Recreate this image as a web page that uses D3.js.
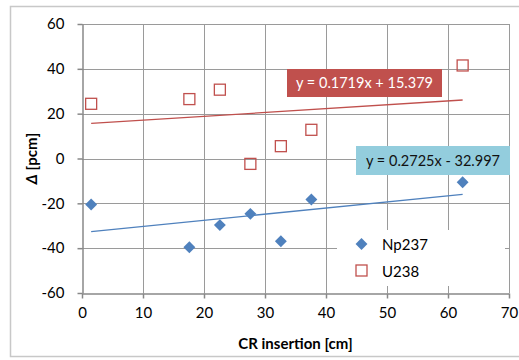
<!DOCTYPE html>
<html>
<head>
<meta charset="utf-8">
<script src="https://cdn.jsdelivr.net/npm/d3@7"></script>
<style>
  html, body { margin: 0; padding: 0; background: #fff; }
  svg { display: block; font-family: Lato, "Open Sans", sans-serif; }
</style>
</head>
<body>
<svg id="chart" width="519" height="360"></svg>
<script>
// CR insertion positions [cm]
const insertion = [1.5, 17.6, 22.6, 27.6, 32.6, 37.6, 62.4];
// Reactivity deviation Δ [pcm] per isotope
const np237 = [-20.5, -39.6, -29.7, -24.7, -36.9, -18.3, -10.6];
const u238 = [24.4, 26.5, 30.7, -2.4, 5.5, 12.8, 41.5];
// Linear fit coefficients (slope, intercept)
const fitNp = [0.2725, -32.997];
const fitU = [0.1719, 15.379];
const fitNpLabel = "y = 0.2725x - 32.997";
const fitULabel = "y = 0.1719x + 15.379";
const xTicks = [0, 10, 20, 30, 40, 50, 60, 70];
const yTicks = [-60, -40, -20, 0, 20, 40, 60];
const seriesNames = ["Np237", "U238"];

const blue = "#4F81BD", red = "#C0504D";
const svg = d3.select("#chart");

// outer chart frame
svg.append("rect").attr("x", 10.5).attr("y", 6.5).attr("width", 540).attr("height", 350)
  .attr("fill", "#fff").attr("stroke", "#c8c8c8").attr("stroke-width", 1.5);

const x = d3.scaleLinear().domain([0, 70]).range([82, 509]);
const y = d3.scaleLinear().domain([-60, 60]).range([293, 24]);

// gridlines
const grid = svg.append("g").attr("stroke", "#9a9a9a").attr("stroke-width", 1);
grid.selectAll(".vg").data(xTicks.slice(1)).join("line")
  .attr("x1", d => Math.round(x(d)) + 0.5).attr("x2", d => Math.round(x(d)) + 0.5)
  .attr("y1", y(60)).attr("y2", y(-60));
grid.selectAll(".hg").data(yTicks.slice(1)).join("line")
  .attr("x1", x(0)).attr("x2", x(70))
  .attr("y1", d => Math.round(y(d)) + 0.5).attr("y2", d => Math.round(y(d)) + 0.5);

// axes (plain hyphen for negative numbers)
const fmt = d => String(d);
const xAxis = svg.append("g").attr("transform", `translate(0,${Math.round(y(-60)) + 0.5})`)
  .call(d3.axisBottom(x).tickValues(xTicks).tickFormat(fmt).tickSize(5).tickPadding(9).tickSizeOuter(0));
const yAxis = svg.append("g").attr("transform", `translate(${Math.round(x(0)) + 0.5},0)`)
  .call(d3.axisLeft(y).tickValues(yTicks).tickFormat(fmt).tickSize(5).tickPadding(13).tickSizeOuter(0));
[xAxis, yAxis].forEach(a => {
  a.select(".domain").attr("stroke", "#888").attr("stroke-width", 1.5);
  a.selectAll(".tick line").attr("stroke", "#888").attr("stroke-width", 1.5);
  a.selectAll(".tick text").attr("fill", "#000").style("font-size", "15px")
    .style("font-family", "Lato, 'Open Sans', sans-serif");
});

// legend box (drawn before the markers it sits under)
const lg = svg.append("g");
lg.append("rect").attr("x", 337).attr("y", 230).attr("width", 168).attr("height", 56).attr("fill", "#fff");

// trend lines
function trend(fit, color) {
  const xs = d3.extent(insertion);
  svg.append("line")
    .attr("x1", x(xs[0])).attr("y1", y(fit[0] * xs[0] + fit[1]))
    .attr("x2", x(xs[1])).attr("y2", y(fit[0] * xs[1] + fit[1]))
    .attr("stroke", color).attr("stroke-width", 1.3);
}
trend(fitU, red);
trend(fitNp, blue);

// markers
const diamond = d3.symbol().type(d3.symbolDiamond2).size(90);
svg.append("g").selectAll("path").data(insertion).join("path")
  .attr("d", diamond)
  .attr("transform", (d, i) => `translate(${x(d)},${y(np237[i])})`)
  .attr("fill", blue);
svg.append("g").selectAll("rect").data(insertion).join("rect")
  .attr("x", (d) => x(d) - 5.5).attr("y", (d, i) => y(u238[i]) - 5.5)
  .attr("width", 11).attr("height", 11)
  .attr("fill", "none").attr("stroke", red).attr("stroke-width", 1.3);

// trend equation labels
function eqLabel(text, bx, by, bw, bh, fill, color) {
  const g = svg.append("g");
  g.append("rect").attr("x", bx).attr("y", by).attr("width", bw).attr("height", bh).attr("fill", fill);
  g.append("text").attr("x", bx + bw / 2).attr("y", by + bh / 2 + 5)
    .attr("text-anchor", "middle").attr("fill", color).style("font-size", "14.5px").text(text);
}
eqLabel(fitULabel, 287, 69, 155, 28, red, "#fff");
eqLabel(fitNpLabel, 356, 146, 154, 29, "#93CDDD", "#111");

// legend entries
lg.append("path").attr("d", diamond).attr("transform", "translate(361.5,244)").attr("fill", blue);
lg.append("rect").attr("x", 356).attr("y", 265).attr("width", 11).attr("height", 11)
  .attr("fill", "none").attr("stroke", red).attr("stroke-width", 1.3);
lg.selectAll("text").data(seriesNames).join("text")
  .attr("x", 382).attr("y", (d, i) => 250 + i * 26.5)
  .style("font-size", "15px").attr("fill", "#000").text(d => d);

// axis titles
svg.append("text").attr("x", (x(0) + x(70)) / 2).attr("y", 349)
  .attr("text-anchor", "middle").style("font-size", "15px").style("font-weight", "bold")
  .text("CR insertion [cm]");
const yt = svg.append("text").attr("transform", `translate(37,${(y(60) + y(-60)) / 2}) rotate(-90)`)
  .attr("text-anchor", "middle").style("font-size", "15px").style("font-weight", "bold");
yt.append("tspan").style("font-style", "italic").text("Δ");
yt.append("tspan").text(" [pcm]");
</script>
</body>
</html>
